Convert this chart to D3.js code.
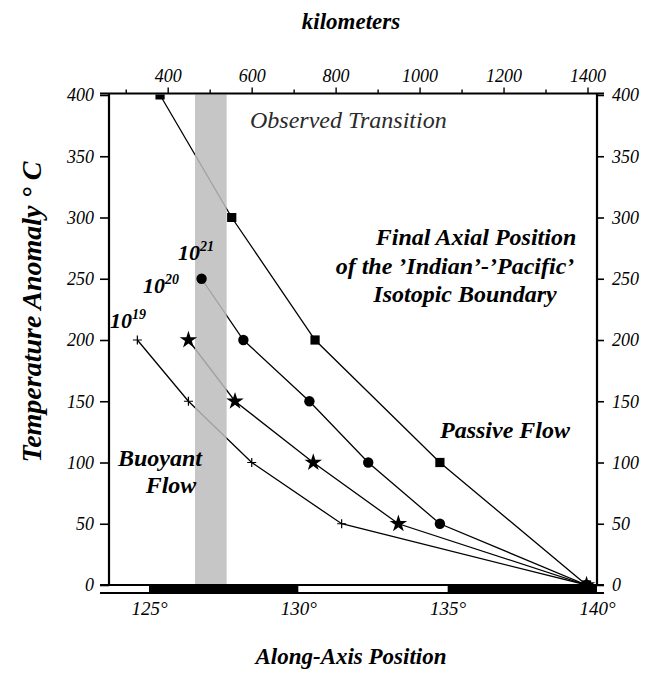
<!DOCTYPE html>
<html>
<head>
<meta charset="utf-8">
<script src="https://cdn.jsdelivr.net/npm/d3@7"></script>
<style>
  body { margin: 0; background: #fff; }
  svg { display: block; }
</style>
</head>
<body>
<script>
// Along-axis position (degrees) and temperature anomaly (°C) for each model run
const squareLon = [125.37, 127.77, 130.56, 134.74, 139.65];
const squareTemp = [400, 300, 200, 100, 0];
const circleLon = [126.76, 128.16, 130.37, 132.34, 134.74, 139.65];
const circleTemp = [250, 200, 150, 100, 50, 0];
const starLon = [126.32, 127.88, 130.50, 133.35, 139.65];
const starTemp = [200, 150, 100, 50, 0];
const plusLon = [124.61, 126.32, 128.44, 131.45, 139.65];
const plusTemp = [200, 150, 100, 50, 0];

// Observed transition band (degrees)
const bandLon = [126.54, 127.60];

// Axis ticks
const tempTicks = [0, 50, 100, 150, 200, 250, 300, 350, 400];
const lonTicks = [125, 130, 135, 140];
const kmTicks = [300, 400, 500, 600, 700, 800, 900, 1000, 1100, 1200, 1300, 1400];
const kmLabels = [400, 600, 800, 1000, 1200, 1400];

const W = 651, H = 674;
const svg = d3.select("body").append("svg").attr("width", W).attr("height", H);

const x = d3.scaleLinear().domain([125, 140]).range([149, 597]);
const y = d3.scaleLinear().domain([0, 400]).range([585, 95]);
const km = d3.scaleLinear().domain([400, 1400]).range([167.7, 587.5]);

const frameL = 109, frameR = 597, frameT = 93.5, frameB = 585;
const SERIF = "'Liberation Serif', 'Times New Roman', Times, Tinos, 'Nimbus Roman', 'Noto Serif', FreeSerif, 'DejaVu Serif', serif";

// helper: apply serif font attributes to a text selection
function serif(sel, size, bold, italic = true) {
  return sel.attr("font-family", SERIF)
    .attr("font-size", size)
    .attr("font-weight", bold ? "bold" : "normal")
    .attr("font-style", italic ? "italic" : "normal");
}

svg.append("defs").append("clipPath").attr("id", "plot")
  .append("rect").attr("x", frameL).attr("y", frameT + 1)
  .attr("width", frameR - frameL + 8).attr("height", frameB - frameT - 1);

const series = [
  { lon: squareLon, temp: squareTemp, type: "square" },
  { lon: circleLon, temp: circleTemp, type: "circle" },
  { lon: starLon, temp: starTemp, type: "star" },
  { lon: plusLon, temp: plusTemp, type: "plus" }
];

const plot = svg.append("g").attr("clip-path", "url(#plot)");

// connecting lines
const line = d3.line().x(d => x(d[0])).y(d => y(d[1]));
plot.selectAll("path.series").data(series).join("path")
  .attr("class", "series")
  .attr("d", s => line(s.lon.map((v, i) => [v, s.temp[i]])))
  .attr("fill", "none").attr("stroke", "#000").attr("stroke-width", 1.3);

// observed transition band
plot.append("rect")
  .attr("x", x(bandLon[0])).attr("width", x(bandLon[1]) - x(bandLon[0]))
  .attr("y", frameT).attr("height", frameB - frameT)
  .attr("fill", "#bcbcbc").attr("opacity", 0.85);

// markers
const symbols = {
  square: d3.symbol(d3.symbolSquare, 85),
  circle: d3.symbol(d3.symbolCircle, 85),
  star: d3.symbol(d3.symbolStar, 95)
};
series.forEach(s => {
  const pts = s.lon.map((v, i) => [v, s.temp[i]]);
  const g = plot.append("g");
  if (s.type === "plus") {
    g.selectAll("path").data(pts).join("path")
      .attr("transform", d => `translate(${x(d[0])},${y(d[1])})`)
      .attr("d", "M-4.5,0H4.5M0,-4.5V4.5")
      .attr("stroke", "#000").attr("stroke-width", 1.2).attr("fill", "none");
  } else {
    g.selectAll("path").data(pts).join("path")
      .attr("transform", d => `translate(${x(d[0])},${y(d[1])})`)
      .attr("d", symbols[s.type]())
      .attr("fill", "#000");
  }
});

// frame: left and right vertical axes
const yLeft = svg.append("g").attr("transform", `translate(${frameL},0)`)
  .call(d3.axisLeft(y).tickValues(tempTicks).tickSize(9).tickSizeOuter(0).tickPadding(6));
const yRight = svg.append("g").attr("transform", `translate(${frameR},0)`)
  .call(d3.axisRight(y).tickValues(tempTicks).tickSize(7).tickSizeOuter(0).tickPadding(8));
[yLeft, yRight].forEach(g => {
  g.attr("font-family", null).attr("font-size", null);
  g.select(".domain").attr("d", `M0,${frameT}V${frameB}`).attr("stroke-width", 2.2);
  g.selectAll(".tick line").attr("stroke-width", 1.6);
  serif(g.selectAll(".tick text"), 18, false).attr("fill", "#000");
});

// top kilometre axis
const kmAxis = svg.append("g").attr("transform", `translate(0,${frameT})`)
  .call(d3.axisTop(km).tickValues(kmTicks).tickSize(6).tickSizeOuter(0).tickPadding(6)
    .tickFormat(d => kmLabels.includes(d) ? d : ""));
kmAxis.attr("font-family", null).attr("font-size", null);
kmAxis.select(".domain").attr("d", `M100,0H604`).attr("stroke-width", 2.2);
kmAxis.selectAll(".tick line").attr("stroke-width", 1.4)
  .attr("y2", d => kmLabels.includes(d) ? -6 : -4);
serif(kmAxis.selectAll(".tick text"), 18, false).attr("fill", "#000");

// bottom scale bar and longitude axis
const bar = svg.append("g");
bar.selectAll("rect").data([[125, 130], [135, 140]]).join("rect")
  .attr("x", d => x(d[0])).attr("width", d => x(d[1]) - x(d[0]))
  .attr("y", frameB).attr("height", 8).attr("fill", "#000");
bar.selectAll("line").data([frameB, frameB + 8]).join("line")
  .attr("x1", 100).attr("x2", 604).attr("y1", d => d).attr("y2", d => d)
  .attr("stroke", "#000").attr("stroke-width", 2);

const lonAxis = svg.append("g").attr("transform", `translate(0,${frameB + 8})`)
  .call(d3.axisBottom(x).tickValues(lonTicks).tickSize(0).tickPadding(9).tickFormat(d => d + "°"));
lonAxis.attr("font-family", null).attr("font-size", null);
lonAxis.select(".domain").remove();
serif(lonAxis.selectAll(".tick text"), 19, false).attr("fill", "#000");

// titles and annotations
serif(svg.append("text"), 23, true).attr("x", 351).attr("y", 29)
  .attr("text-anchor", "middle").text("kilometers");
serif(svg.append("text"), 23, true).attr("x", 351).attr("y", 664)
  .attr("text-anchor", "middle").text("Along-Axis Position");
serif(svg.append("text"), 28, true).attr("transform", "translate(41,312) rotate(-90)")
  .attr("text-anchor", "middle").text("Temperature Anomaly ° C");

serif(svg.append("text"), 24, false).attr("x", 250).attr("y", 128)
  .attr("fill", "#2a2a2a").text("Observed Transition");

// multi-line annotation, each line with its own centre
const finalLines = ["Final Axial Position", "of the ’Indian’-’Pacific’", "Isotopic Boundary"];
const finalCx = [476, 455, 465];
serif(svg.append("text"), 24, true).attr("text-anchor", "middle")
  .selectAll("tspan").data(finalLines).join("tspan")
  .attr("x", (d, i) => finalCx[i]).attr("y", (d, i) => 245 + i * 28.5).text(d => d);

serif(svg.append("text"), 24, true).attr("x", 505).attr("y", 438)
  .attr("text-anchor", "middle").text("Passive Flow");

const buoyCx = [160, 171];
serif(svg.append("text"), 24, true).attr("text-anchor", "middle")
  .selectAll("tspan").data(["Buoyant", "Flow"]).join("tspan")
  .attr("x", (d, i) => buoyCx[i]).attr("y", (d, i) => 466 + i * 27).text(d => d);

// viscosity labels
const viscLabels = [
  { exp: "21", x: 178, y: 260 },
  { exp: "20", x: 143, y: 293 },
  { exp: "19", x: 110, y: 328 }
];
viscLabels.forEach(v => {
  const t = serif(svg.append("text"), 22, true).attr("x", v.x).attr("y", v.y);
  t.append("tspan").text("10");
  t.append("tspan").attr("dy", -9).attr("font-size", 14).text(v.exp);
});
</script>
</body>
</html>
